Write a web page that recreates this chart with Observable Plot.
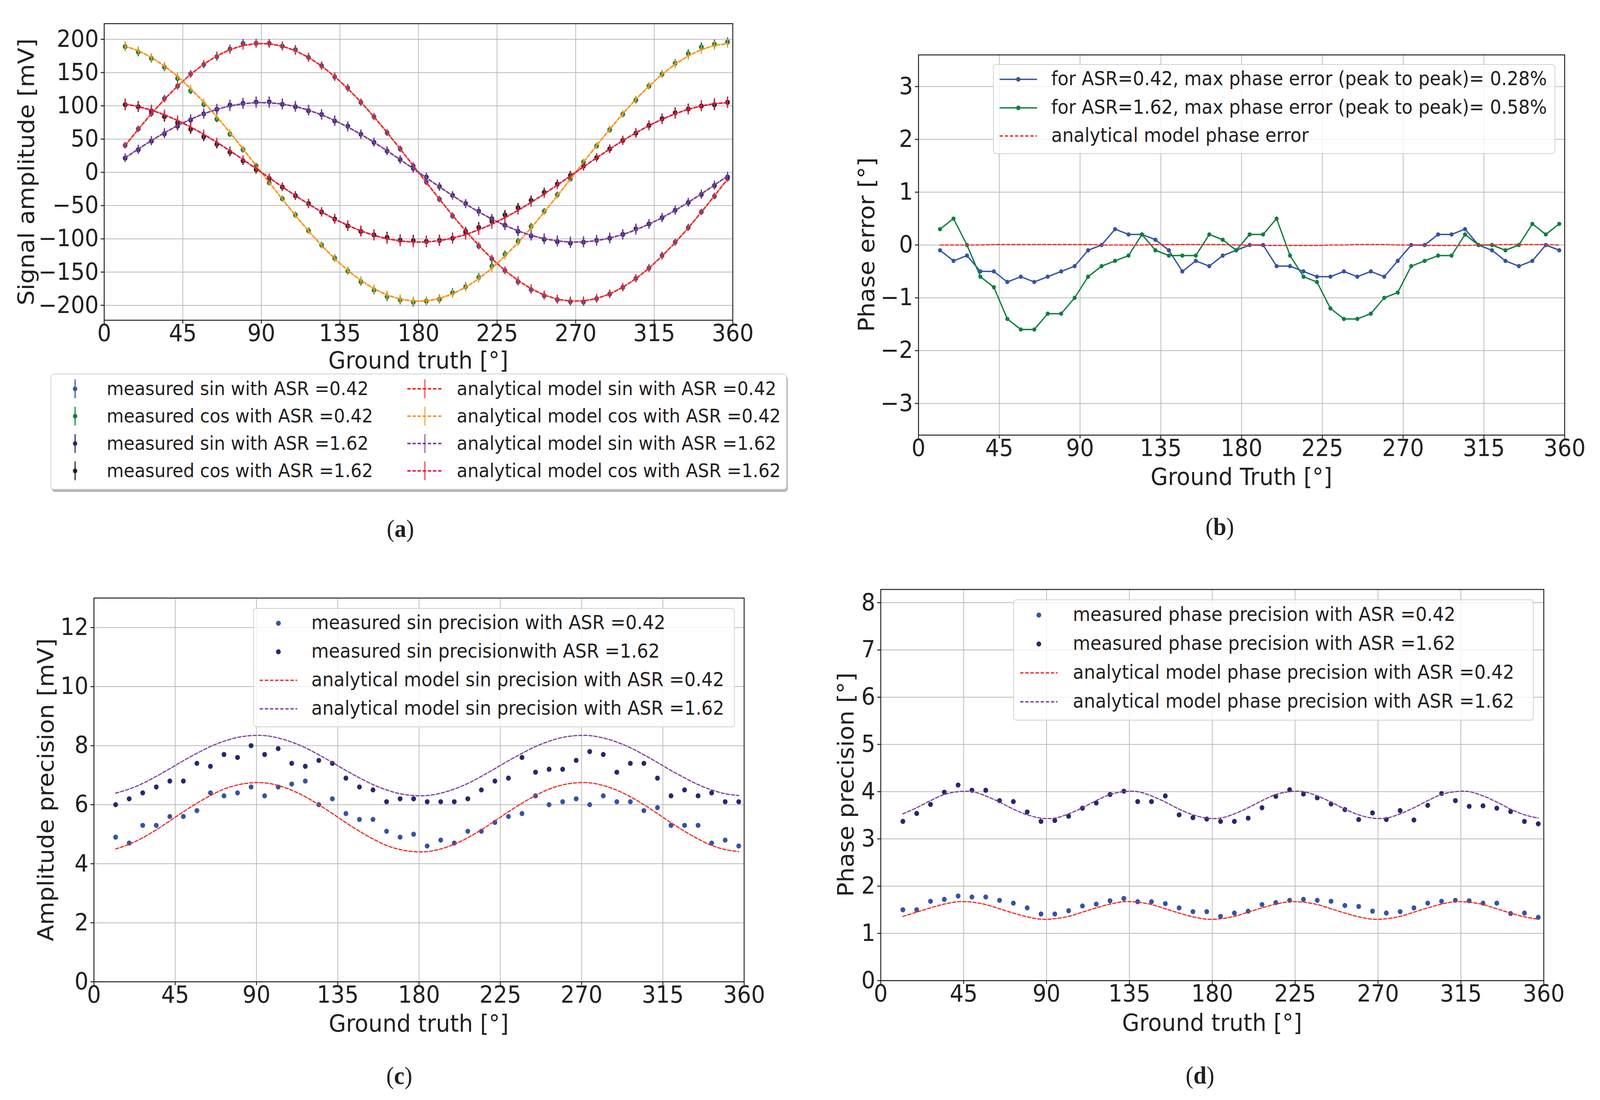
<!DOCTYPE html>
<html><head><meta charset="utf-8">
<script src="https://cdn.jsdelivr.net/npm/d3@7"></script>
<script src="https://cdn.jsdelivr.net/npm/@observablehq/plot@0.6"></script>
<style>
html,body{margin:0;padding:0;background:#fff;overflow:hidden}
#wrap{position:relative;overflow:hidden;width:4368px;height:2815px}
#page{position:absolute;left:0;top:0;width:4368px;height:2815px;background:#fff;overflow:hidden;font-family:"DejaVu Sans";color:#231f20;transform-origin:0 0}
.abs{position:absolute}
.c{transform:translate(-50%,-50%);white-space:nowrap}
.yl{transform:translate(-50%,-50%) rotate(-90deg);white-space:nowrap}
.lg{position:absolute;box-sizing:border-box;border:2px solid rgba(200,200,200,0.85);border-radius:9px;background:rgba(255,255,255,0.8)}
.cap{font-family:"Liberation Serif";font-size:64px}
</style></head><body><div id="wrap"><div id="page"></div></div>
<script>
// ---------- data ----------
const angles = [12,19.5,27,34.5,42,49.5,57,64.5,72,79.5,87,94.5,102,109.5,117,124.5,132,139.5,147,154.5,162,169.5,177,184.5,192,199.5,207,214.5,222,229.5,237,244.5,252,259.5,267,274.5,282,289.5,297,304.5,312,319.5,327,334.5,342,349.5,357];
const xTicks = [0,45,90,135,180,225,270,315,360];

// (a) signal amplitude [mV]
const measSin042 = [40.5,65.2,88.5,111,129.7,148,162,174,185.5,193.8,194,194,189.7,184.4,172.8,160.4,143.5,127,105.3,83.6,59.6,35.2,9.7,-14.6,-40.5,-65.6,-88,-111,-130,-147.7,-164.5,-176.5,-185.5,-191.5,-194.5,-195,-190,-183,-173,-159.5,-144,-125,-105,-83,-59.6,-36,-9.4];
const measCos042 = [189,180.7,171.3,158,141.3,122.6,102.3,80,57.7,34,9.7,-15.7,-39.7,-64,-87.7,-109.4,-129,-148.4,-164.5,-177,-187,-192,-195.3,-193.8,-190.8,-181,-172,-157.8,-141,-123.3,-103.8,-81.3,-58.5,-33.7,-10,15.4,39.7,64,87.3,108.7,129.7,147.7,164,178.4,188.5,192.7,196];
const measSin162 = [21.4,34,46.9,58,69.3,78.7,88,94.8,101.2,103.8,105.7,106,102.3,98.6,92.6,87,77.2,69.3,57.3,45,31.9,19.1,6,-7.1,-21.4,-34.5,-46.9,-58.5,-69.7,-79.5,-88.8,-95.6,-100.8,-104.2,-106.4,-105,-102.3,-99,-93.3,-85,-77.6,-68.2,-57,-45.4,-33.4,-19.9,-7.1];
const measCos162 = [101.6,98.6,92.2,83.6,74.6,64.8,53.6,42.4,30.4,17.2,4.1,-9.4,-22.1,-35.2,-46.9,-59.6,-70.1,-80.6,-88.8,-94.1,-97.8,-102,-102.7,-103.8,-102.3,-99.3,-90.3,-82.8,-73.8,-64.1,-53.2,-42,-30,-17.6,-4.5,9.4,22.1,35.2,48,58.8,70.5,80.6,89.6,95.2,99.7,101.6,105.3];
const modelSin042 = [40.3,64.8,88.1,109.9,129.8,147.5,162.7,175.1,184.5,190.8,193.7,193.4,189.8,182.9,172.9,159.9,144.2,126.0,105.7,83.5,59.9,35.3,10.1,-15.2,-40.3,-64.8,-88.1,-109.9,-129.8,-147.5,-162.7,-175.1,-184.5,-190.8,-193.7,-193.4,-189.8,-182.9,-172.9,-159.9,-144.2,-126.0,-105.7,-83.5,-59.9,-35.3,-10.1];
const modelCos042 = [189.8,182.9,172.9,159.9,144.2,126.0,105.7,83.5,59.9,35.3,10.1,-15.2,-40.3,-64.8,-88.1,-109.9,-129.8,-147.5,-162.7,-175.1,-184.5,-190.8,-193.7,-193.4,-189.8,-182.9,-172.9,-159.9,-144.2,-126.0,-105.7,-83.5,-59.9,-35.3,-10.1,15.2,40.3,64.8,88.1,109.9,129.8,147.5,162.7,175.1,184.5,190.8,193.7];
const modelSin162 = [21.8,35.0,47.7,59.5,70.3,79.8,88.1,94.8,99.9,103.2,104.9,104.7,102.7,99.0,93.6,86.5,78.0,68.2,57.2,45.2,32.4,19.1,5.5,-8.2,-21.8,-35.0,-47.7,-59.5,-70.3,-79.8,-88.1,-94.8,-99.9,-103.2,-104.9,-104.7,-102.7,-99.0,-93.6,-86.5,-78.0,-68.2,-57.2,-45.2,-32.4,-19.1,-5.5];
const modelCos162 = [102.7,99.0,93.6,86.5,78.0,68.2,57.2,45.2,32.4,19.1,5.5,-8.2,-21.8,-35.0,-47.7,-59.5,-70.3,-79.8,-88.1,-94.8,-99.9,-103.2,-104.9,-104.7,-102.7,-99.0,-93.6,-86.5,-78.0,-68.2,-57.2,-45.2,-32.4,-19.1,-5.5,8.2,21.8,35.0,47.7,59.5,70.3,79.8,88.1,94.8,99.9,103.2,104.9];
const modelPrecCos042 = [6.65,6.49,6.27,6.00,5.70,5.39,5.10,4.84,4.62,4.48,4.41,4.41,4.50,4.66,4.88,5.15,5.45,5.76,6.05,6.31,6.53,6.67,6.74,6.74,6.65,6.49,6.27,6.00,5.70,5.39,5.10,4.84,4.62,4.48,4.41,4.41,4.50,4.66,4.88,5.15,5.45,5.76,6.05,6.31,6.53,6.67,6.74];
const modelPrecCos162 = [8.26,8.12,7.93,7.69,7.43,7.16,6.91,6.68,6.50,6.37,6.31,6.31,6.39,6.53,6.72,6.96,7.22,7.49,7.74,7.97,8.15,8.28,8.34,8.34,8.26,8.12,7.93,7.69,7.43,7.16,6.91,6.68,6.50,6.37,6.31,6.31,6.39,6.53,6.72,6.96,7.22,7.49,7.74,7.97,8.15,8.28,8.34];

// (b) phase error [deg]
const phaseErr042 = [-0.1,-0.3,-0.2,-0.5,-0.5,-0.7,-0.6,-0.7,-0.6,-0.5,-0.4,-0.1,0,0.3,0.2,0.2,0.1,-0.1,-0.5,-0.3,-0.4,-0.2,-0.1,0,0,-0.4,-0.4,-0.5,-0.6,-0.6,-0.5,-0.6,-0.5,-0.6,-0.3,0,0,0.2,0.2,0.3,0,-0.1,-0.3,-0.4,-0.3,0,-0.1];
const phaseErr162 = [0.3,0.5,0,-0.6,-0.8,-1.4,-1.6,-1.6,-1.3,-1.3,-1.0,-0.6,-0.4,-0.3,-0.2,0.2,-0.1,-0.2,-0.2,-0.2,0.2,0.1,-0.1,0.2,0.2,0.5,-0.2,-0.6,-0.7,-1.2,-1.4,-1.4,-1.3,-1.0,-0.9,-0.4,-0.3,-0.2,-0.2,0.2,0,0,-0.1,0,0.4,0.2,0.4];
const modelPhaseErr = [0,0,0,0,0.01,0.01,0.01,0.01,0.01,0.01,0.01,0.01,0,0,0,0,0.01,0.01,0.01,0.01,0.01,0.01,0,0,-0.01,-0.01,-0.01,-0.01,-0.01,0,0,0.01,0.01,0.01,0,0,-0.01,-0.01,-0.01,-0.01,0,0,0.01,0.01,0.01,0.01,0];

// (c) amplitude precision [mV]
const precSin042 = [4.9,4.7,5.3,5.3,5.6,5.6,5.8,6.4,6.3,6.4,6.6,6.3,6.6,6.7,6.8,6.0,6.2,5.7,5.5,5.5,5.1,4.9,5.0,4.6,4.8,4.7,5.1,5.1,5.4,5.6,5.7,6.3,6.0,6.1,6.2,6.0,6.3,6.1,6.1,5.8,5.9,5.3,5.3,5.3,4.7,4.8,4.6];
const precSin162 = [6.0,6.2,6.4,6.6,6.8,6.8,7.4,7.3,7.7,7.6,8.0,7.7,7.9,7.4,7.3,7.5,7.4,6.9,6.6,6.5,6.1,6.2,6.2,6.1,6.1,6.1,6.2,6.5,6.8,6.9,7.6,7.1,7.2,7.2,7.5,7.8,7.7,7.1,7.4,7.4,6.9,6.3,6.5,6.3,6.4,6.1,6.1];
const modelPrecSin042 = [4.50,4.66,4.88,5.15,5.45,5.76,6.05,6.31,6.53,6.67,6.74,6.74,6.65,6.49,6.27,6.00,5.70,5.39,5.10,4.84,4.62,4.48,4.41,4.41,4.50,4.66,4.88,5.15,5.45,5.76,6.05,6.31,6.53,6.67,6.74,6.74,6.65,6.49,6.27,6.00,5.70,5.39,5.10,4.84,4.62,4.48,4.41];
const modelPrecSin162 = [6.39,6.53,6.72,6.96,7.22,7.49,7.74,7.97,8.15,8.28,8.34,8.34,8.26,8.12,7.93,7.69,7.43,7.16,6.91,6.68,6.50,6.37,6.31,6.31,6.39,6.53,6.72,6.96,7.22,7.49,7.74,7.97,8.15,8.28,8.34,8.34,8.26,8.12,7.93,7.69,7.43,7.16,6.91,6.68,6.50,6.37,6.31];

// (d) phase precision [deg]
const phasePrec042 = [1.50,1.50,1.68,1.72,1.79,1.77,1.77,1.70,1.64,1.54,1.41,1.41,1.48,1.58,1.62,1.69,1.74,1.67,1.67,1.63,1.54,1.46,1.46,1.36,1.43,1.47,1.61,1.65,1.70,1.72,1.70,1.68,1.59,1.57,1.47,1.43,1.46,1.54,1.64,1.68,1.70,1.69,1.64,1.64,1.42,1.43,1.34];
const phasePrec162 = [3.37,3.54,3.73,3.99,4.14,4.03,4.03,3.81,3.79,3.57,3.37,3.39,3.48,3.65,3.76,3.94,4.01,3.79,3.79,3.91,3.51,3.45,3.42,3.37,3.37,3.44,3.66,3.90,4.04,3.95,3.87,3.74,3.62,3.41,3.55,3.41,3.60,3.40,3.71,3.96,3.81,3.69,3.70,3.65,3.58,3.37,3.32];
const modelPhasePrec042 = [1.36,1.45,1.54,1.62,1.67,1.66,1.61,1.52,1.43,1.35,1.30,1.31,1.36,1.45,1.54,1.62,1.67,1.66,1.61,1.52,1.43,1.35,1.30,1.31,1.36,1.45,1.54,1.62,1.67,1.66,1.61,1.52,1.43,1.35,1.30,1.31,1.36,1.45,1.54,1.62,1.67,1.66,1.61,1.52,1.43,1.35,1.30];
const modelPhasePrec162 = [3.53,3.66,3.81,3.94,4.00,4.00,3.91,3.78,3.63,3.51,3.44,3.44,3.53,3.66,3.81,3.94,4.00,4.00,3.91,3.78,3.63,3.51,3.44,3.44,3.53,3.66,3.81,3.94,4.00,4.00,3.91,3.78,3.63,3.51,3.44,3.44,3.53,3.66,3.81,3.94,4.00,4.00,3.91,3.78,3.63,3.51,3.44];

// ---------- styling ----------
const C = {blue:"#3553a5", green:"#0d7f3f", navy:"#27276f", black:"#231f20",
  red:"#ee2a24", orange:"#f7941d", purple:"#7e3f98", crimson:"#e01e3e"};
const page = document.getElementById("page");
const GRID = "#b9b9b9";

// fit the 4368x2815 layout onto the viewport the browser really has
(function fit(){
  const vw = window.innerWidth || document.documentElement.clientWidth || 4368;
  const vh = window.innerHeight || document.documentElement.clientHeight || 2815;
  const sx = vw / 4368, sy = vh / 2815;
  const wrap = document.getElementById("wrap");
  wrap.style.width = (4368*sx)+"px";
  wrap.style.height = (2815*sy)+"px";
  page.style.transform = `scale(${sx}, ${sy})`;
})();

function frameMarks(yTicks, xTickPad, yTickPad){
  return [
    Plot.gridX({ticks:xTicks, stroke:GRID, strokeOpacity:1, strokeWidth:2}),
    Plot.gridY({ticks:yTicks, stroke:GRID, strokeOpacity:1, strokeWidth:2}),
    Plot.axisX({ticks:xTicks, tickSize:9, tickPadding:xTickPad, label:null, strokeWidth:2.5, tickFormat:d3.format("d")}),
    Plot.axisY({ticks:yTicks, tickSize:9, tickPadding:yTickPad, label:null, strokeWidth:2.5, tickFormat:d3.format("d")})
  ];
}
function errbars(ys, es, color, w){
  return Plot.ruleX(angles, {x:d=>d, y1:(d,i)=>ys[i]-es[i], y2:(d,i)=>ys[i]+es[i], stroke:color, strokeWidth:w});
}
function dots(ys, color, r){
  return Plot.dot(angles, {x:d=>d, y:(d,i)=>ys[i], r, fill:color, stroke:"none"});
}
function line(ys, color, w, dash, curve){
  return Plot.line(angles, {x:d=>d, y:(d,i)=>ys[i], stroke:color, strokeWidth:w, strokeDasharray:dash||null, curve:curve||"linear"});
}
function place(svg, left, top, w){
  const d = document.createElement("div");
  d.className = "abs"; d.style.left = left+"px"; d.style.top = top+"px"; d.style.width = w+"px";
  d.appendChild(svg); page.appendChild(d);
}
function text(html, x, y, cls, size){
  const d = document.createElement("div");
  d.className = "abs "+cls; d.style.left = x+"px"; d.style.top = y+"px";
  if (size) d.style.fontSize = size+"px";
  d.innerHTML = html; page.appendChild(d);
}
const baseStyle = {fontFamily:"DejaVu Sans", fontSize:"60px", color:"#231f20", background:"transparent", overflow:"visible", maxWidth:"none"};

// ---------- (a) ----------
{
  const W = 2068, H = 909;
  const svg = Plot.plot({
    width:W, height:H, marginLeft:284, marginRight:68, marginTop:60, marginBottom:90,
    style:baseStyle,
    x:{domain:[0,360]}, y:{domain:[-222.4,223.6]},
    marks:[
      ...frameMarks([-200,-150,-100,-50,0,50,100,150,200], 2, 6),
      errbars(measSin042, precSin042, C.blue, 3.5),
      dots(measSin042, C.blue, 6.5),
      errbars(measCos042, modelPrecCos042, C.green, 3.5),
      dots(measCos042, C.green, 6.5),
      errbars(measSin162, precSin162, C.navy, 3.5),
      dots(measSin162, C.navy, 6.5),
      errbars(measCos162, modelPrecCos162, C.black, 3.5),
      dots(measCos162, C.black, 6.5),
      errbars(modelSin042, modelPrecSin042, C.red, 3),
      line(modelSin042, C.red, 4, "9,5"),
      errbars(modelCos042, modelPrecCos042, C.orange, 3),
      line(modelCos042, C.orange, 4, "9,5"),
      errbars(modelSin162, modelPrecSin162, C.purple, 3),
      line(modelSin162, C.purple, 4, "9,5"),
      errbars(modelCos162, modelPrecCos162, C.crimson, 3),
      line(modelCos162, C.crimson, 4, "9,5"),
      Plot.frame({stroke:"#231f20", strokeWidth:2.5})
    ]
  });
  place(svg, 0, 0, W);
  text("Signal amplitude [mV]", 71, 440, "yl", 61);
  text("Ground truth [°]", 1142, 921, "c", 61);
  text("(<b>a</b>)", 1093, 1353, "c cap");
}
// ---------- (b) ----------
{
  const W = 2031, H = 1163;
  const svg = Plot.plot({
    width:W, height:H, marginLeft:207, marginRight:60, marginTop:100, marginBottom:90,
    style:baseStyle,
    x:{domain:[0,360]}, y:{domain:[-3.6,3.6]},
    marks:[
      ...frameMarks([-3,-2,-1,0,1,2,3], 2, 6),
      line(phaseErr042, C.blue, 3.5),
      dots(phaseErr042, C.blue, 5.5),
      line(phaseErr162, C.green, 3.5),
      dots(phaseErr162, C.green, 5.5),
      line(modelPhaseErr, C.red, 3, "9,5"),
      Plot.frame({stroke:"#231f20", strokeWidth:2.5})
    ]
  });
  place(svg, 2300, 40, W);
  text("Phase error [°]", 2365, 626, "yl", 61);
  text("Ground Truth [°]", 3389, 1219, "c", 61);
  text("(<b>b</b>)", 3330, 1348, "c cap");
}
// ---------- (c) ----------
{
  const W = 2091, H = 1152;
  const svg = Plot.plot({
    width:W, height:H, marginLeft:256, marginRight:60, marginTop:80, marginBottom:90,
    style:baseStyle,
    x:{domain:[0,360]}, y:{domain:[0,13]},
    marks:[
      ...frameMarks([0,2,4,6,8,10,12], 2, 6),
      dots(precSin042, C.blue, 6.5),
      dots(precSin162, C.navy, 6.5),
      line(modelPrecSin042, C.red, 3, "9,5", "catmull-rom"),
      line(modelPrecSin162, C.purple, 3, "9,5", "catmull-rom"),
      Plot.frame({stroke:"#231f20", strokeWidth:2.5})
    ]
  });
  place(svg, 0, 1450, W);
  text("Amplitude precision [mV]", 125, 2021, "yl", 61);
  text("Ground truth [°]", 1143, 2618, "c", 61);
  text("(<b>c</b>)", 1090, 2753, "c cap");
}
// ---------- (d) ----------
{
  const W = 2024, H = 1169;
  const svg = Plot.plot({
    width:W, height:H, marginLeft:154, marginRight:60, marginTop:78, marginBottom:90,
    style:baseStyle,
    x:{domain:[0,360]}, y:{domain:[0,8.28]},
    marks:[
      ...frameMarks([0,1,2,3,4,5,6,7,8], 2, 6),
      dots(phasePrec042, C.blue, 6.5),
      dots(phasePrec162, C.navy, 6.5),
      line(modelPhasePrec042, C.red, 3, "9,5", "catmull-rom"),
      line(modelPhasePrec162, C.purple, 3, "9,5", "catmull-rom"),
      Plot.frame({stroke:"#231f20", strokeWidth:2.5})
    ]
  });
  place(svg, 2250, 1430, W);
  text("Phase precision [°]", 2309, 2008, "yl", 61);
  text("Ground truth [°]", 3309, 2616, "c", 61);
  text("(<b>d</b>)", 3276, 2752, "c cap");
}

// ---------- legends ----------
function swatch(kind, color, cx, cy){
  const w = 110, h = 60;
  let s = "";
  if (kind==="errdot") s = `<line x1="55" x2="55" y1="6" y2="54" stroke="${color}" stroke-width="3"/><circle cx="55" cy="30" r="6" fill="${color}"/>`;
  if (kind==="errline") s = `<line x1="7" x2="103" y1="30" y2="30" stroke="${color}" stroke-width="4" stroke-dasharray="9,5"/><line x1="55" x2="55" y1="6" y2="54" stroke="${color}" stroke-width="2.5"/>`;
  if (kind==="linedot") s = `<line x1="4" x2="106" y1="30" y2="30" stroke="${color}" stroke-width="3.5"/><circle cx="55" cy="30" r="6" fill="${color}"/>`;
  if (kind==="dash") s = `<line x1="4" x2="106" y1="30" y2="30" stroke="${color}" stroke-width="3.5" stroke-dasharray="9,5"/>`;
  if (kind==="dot") s = `<circle cx="55" cy="30" r="6.5" fill="${color}"/>`;
  const d = document.createElement("div");
  d.className = "abs"; d.style.left = (cx-w/2)+"px"; d.style.top = (cy-h/2)+"px";
  d.innerHTML = `<svg width="${w}" height="${h}">${s}</svg>`;
  page.appendChild(d);
}
function legendBox(l,t,r,b,shadow){
  const d = document.createElement("div");
  d.className = "lg"; d.style.left=l+"px"; d.style.top=t+"px"; d.style.width=(r-l)+"px"; d.style.height=(b-t)+"px";
  if (shadow) d.style.boxShadow = "3px 6px 0 #b8b8b8";
  page.appendChild(d);
}
function legendRow(kind, color, sx, tx, y, label, size){
  swatch(kind, color, sx, y);
  const d = document.createElement("div");
  d.className = "abs"; d.style.left = tx+"px"; d.style.top = y+"px"; d.style.transform = "translateY(-52%)";
  d.style.fontSize = size+"px"; d.style.whiteSpace = "nowrap"; d.textContent = label;
  page.appendChild(d);
}
// (a)
legendBox(138, 956, 2148, 1253, true);
const legA1 = ["measured sin with ASR =0.42","measured cos with ASR =0.42","measured sin with ASR =1.62","measured cos with ASR =1.62"];
const legA2 = ["analytical model sin with ASR =0.42","analytical model cos with ASR =0.42","analytical model sin with ASR =1.62","analytical model cos with ASR =1.62"];
const rowsA = [995,1065,1135,1205];
[C.blue,C.green,C.navy,C.black].forEach((c,i)=>legendRow("errdot", c, 205, 291, rowsA[i], legA1[i], 48));
[C.red,C.orange,C.purple,C.crimson].forEach((c,i)=>legendRow("errline", c, 1160, 1247, rowsA[i], legA2[i], 48));
// (b)
legendBox(2711, 164, 4246, 394, false);
legendRow("linedot", C.blue, 2780, 2870, 203, "for ASR=0.42, max phase error (peak to peak)= 0.28%", 49);
legendRow("linedot", C.green, 2780, 2870, 276, "for ASR=1.62, max phase error (peak to peak)= 0.58%", 49);
legendRow("dash", C.red, 2780, 2870, 348, "analytical model phase error", 49);
// (c)
legendBox(691, 1556, 2006, 1861, false);
legendRow("dot", C.blue, 760, 850, 1595, "measured sin precision with ASR =0.42", 49);
legendRow("dot", C.navy, 760, 850, 1668, "measured sin precisionwith ASR =1.62", 49);
legendRow("dash", C.red, 760, 850, 1741, "analytical model sin precision with ASR =0.42", 49);
legendRow("dash", C.purple, 760, 850, 1814, "analytical model sin precision with ASR =1.62", 49);
// (d)
legendBox(2766, 1534, 4187, 1844, false);
legendRow("dot", C.blue, 2836, 2929, 1574, "measured phase precision with ASR =0.42", 49);
legendRow("dot", C.navy, 2836, 2929, 1648, "measured phase precision with ASR =1.62", 49);
legendRow("dash", C.red, 2836, 2929, 1722, "analytical model phase precision with ASR =0.42", 49);
legendRow("dash", C.purple, 2836, 2929, 1796, "analytical model phase precision with ASR =1.62", 49);
</script></body></html>
